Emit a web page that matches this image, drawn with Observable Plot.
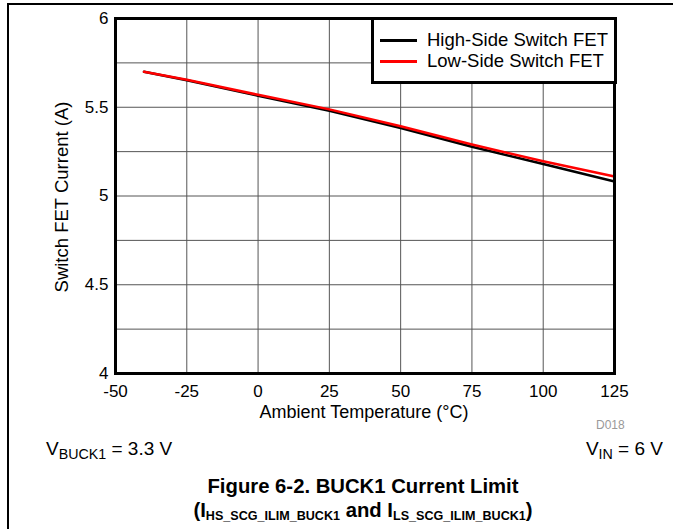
<!DOCTYPE html>
<html>
<head>
<meta charset="utf-8">
<script src="https://cdn.jsdelivr.net/npm/d3@7"></script>
<script src="https://cdn.jsdelivr.net/npm/@observablehq/plot@0.6"></script>
<style>
  html, body { margin: 0; padding: 0; background: #fff; }
  #wrap { position: relative; width: 673px; height: 529px; overflow: hidden;
          font-family: "Liberation Sans", Arial, Helvetica, sans-serif; color: #000; }
  #chart { position: absolute; left: 0; top: 0; }
  .abs { position: absolute; white-space: nowrap; }
  #legend { position: absolute; left: 371px; top: 17px; width: 240px; height: 61px;
            border: 3px solid #000; background: #fff; }
  .lg { position: absolute; left: 6px; width: 37px; height: 3px; }
  .lt { position: absolute; left: 53px; font-size: 18.5px; line-height: 20px; }
  .title { font-family: "Liberation Sans Narrow", "Liberation Sans", Arial, sans-serif;
           font-weight: bold; font-size: 20.3px; line-height: 23.5px; text-align: center; left: 0; width: 726px; }
  .title sub { font-size: 0.62em; vertical-align: -0.2em; line-height: 0; }
  .vt sub { font-size: 0.75em; vertical-align: -0.3em; line-height: 0; }
</style>
</head>
<body>
<div id="wrap">
  <div id="chart"></div>
  <div class="abs" style="left:8px;top:3px;width:665px;height:1.5px;background:#000"></div>
  <div class="abs" style="left:7px;top:3px;width:1.5px;height:526px;background:#000"></div>
  <div id="legend">
    <div class="lg" id="lg0" style="top:19px"></div>
    <div class="lt" id="lt0" style="top:10px"></div>
    <div class="lg" id="lg1" style="top:40px"></div>
    <div class="lt" id="lt1" style="top:31px"></div>
  </div>
  <div class="abs" id="ylabel" style="left:62px;top:197px;font-size:18.5px;transform:translate(-50%,-50%) rotate(-90deg)"></div>
  <div class="abs" id="xlabel" style="left:364px;top:402px;font-size:18px;transform:translateX(-50%)"></div>
  <div class="abs" style="left:596px;top:418px;font-size:12px;color:#999">D018</div>
  <div class="abs vt" style="left:46px;top:438px;font-size:19px">V<sub>BUCK1</sub> = 3.3 V</div>
  <div class="abs vt" style="right:10px;top:438px;font-size:19px">V<sub>IN</sub> = 6 V</div>
  <div class="abs title" style="top:475px">Figure 6-2. BUCK1 Current Limit<br>(I<sub>HS_SCG_ILIM_BUCK1</sub> and I<sub>LS_SCG_ILIM_BUCK1</sub>)</div>
</div>
<script>
// ---- data ----
const temps = [-40, -25, 0, 25, 50, 75, 100, 125];
const highSide = [5.70, 5.652, 5.565, 5.48, 5.383, 5.277, 5.18, 5.082];
const lowSide  = [5.70, 5.655, 5.570, 5.488, 5.393, 5.290, 5.196, 5.11];
const seriesNames = ["High-Side Switch FET", "Low-Side Switch FET"];
const seriesColors = ["#000000", "#ff0000"];
const xTicks = [-50, -25, 0, 25, 50, 75, 100, 125];
const yTicks = [4, 4.5, 5, 5.5, 6];
const yGrid = [4.25, 4.5, 4.75, 5, 5.25, 5.5, 5.75];
const xLabel = "Ambient Temperature (°C)";
const yLabel = "Switch FET Current (A)";

const rows = [];
temps.forEach((t, i) => {
  rows.push({t, v: highSide[i], s: seriesNames[0]});
});
temps.forEach((t, i) => {
  rows.push({t, v: lowSide[i], s: seriesNames[1]});
});

const chart = Plot.plot({
  width: 673,
  height: 430,
  marginTop: 18,
  marginLeft: 115,
  marginRight: 59,
  marginBottom: 57,
  style: { fontFamily: '"Liberation Sans", Arial, Helvetica, sans-serif', fontSize: "17px", color: "#000", background: "transparent" },
  x: { domain: [-50, 125] },
  y: { domain: [4, 6] },
  color: { domain: seriesNames, range: seriesColors },
  marks: [
    Plot.gridX(xTicks.slice(1, -1), { stroke: "#555", strokeOpacity: 1, strokeWidth: 1 }),
    Plot.gridY(yGrid, { stroke: "#555", strokeOpacity: 1, strokeWidth: 1 }),
    Plot.axisX(xTicks, { tickSize: 0, tickPadding: 11, tickFormat: d => String(d), label: null }),
    Plot.axisY(yTicks, { tickSize: 0, tickPadding: 7, tickFormat: d => String(d), label: null }),
    Plot.line(rows, { x: "t", y: "v", z: "s", stroke: "s", strokeWidth: 2.5 }),
    Plot.frame({ stroke: "#000", strokeWidth: 3 })
  ]
});
document.getElementById("chart").appendChild(chart);

seriesNames.forEach((n, i) => {
  document.getElementById("lg" + i).style.background = seriesColors[i];
  document.getElementById("lt" + i).textContent = n;
});
document.getElementById("xlabel").textContent = xLabel;
document.getElementById("ylabel").textContent = yLabel;
</script>
</body>
</html>
